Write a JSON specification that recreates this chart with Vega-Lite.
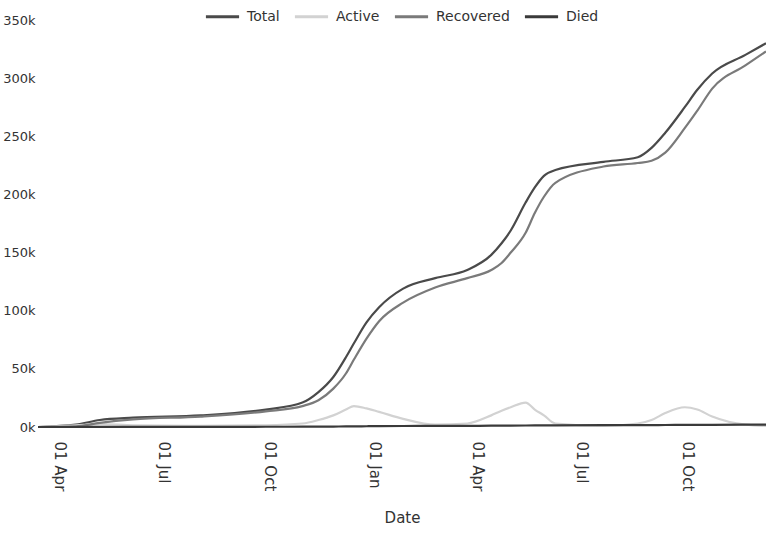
{
  "$schema": "https://vega.github.io/schema/vega-lite/v6.json",
  "autosize": {"type": "none"},
  "width": 728,
  "height": 407,
  "padding": {"left": 38, "top": 20, "right": 0, "bottom": 106},
  "background": "white",
  "config": {
    "font": "DejaVu Sans",
    "view": {"stroke": null},
    "axis": {"labelFont": "DejaVu Sans", "titleFont": "DejaVu Sans", "labelColor": "#333", "titleColor": "#333"}
  },
  "datasets": {
    "covid": [
      {"date": "2020-03-13", "Total": 0, "Active": 0, "Recovered": 0, "Died": 0},
      {"date": "2020-04-15", "Total": 2000, "Active": 1500, "Recovered": 500, "Died": 20},
      {"date": "2020-05-06", "Total": 6000, "Active": 2500, "Recovered": 3500, "Died": 50},
      {"date": "2020-06-04", "Total": 8000, "Active": 1500, "Recovered": 6500, "Died": 100},
      {"date": "2020-08-02", "Total": 10000, "Active": 1000, "Recovered": 9000, "Died": 150},
      {"date": "2020-09-28", "Total": 15000, "Active": 1500, "Recovered": 13500, "Died": 200},
      {"date": "2020-10-30", "Total": 21000, "Active": 3000, "Recovered": 18000, "Died": 250},
      {"date": "2020-11-13", "Total": 30000, "Active": 6000, "Recovered": 23000, "Died": 300},
      {"date": "2020-11-26", "Total": 43000, "Active": 10000, "Recovered": 33000, "Died": 400},
      {"date": "2020-12-07", "Total": 60000, "Active": 15000, "Recovered": 46000, "Died": 500},
      {"date": "2020-12-14", "Total": 72000, "Active": 18000, "Recovered": 58000, "Died": 550},
      {"date": "2020-12-25", "Total": 90000, "Active": 16000, "Recovered": 76000, "Died": 650},
      {"date": "2021-01-05", "Total": 103000, "Active": 13000, "Recovered": 91000, "Died": 750},
      {"date": "2021-01-26", "Total": 119000, "Active": 7000, "Recovered": 107000, "Died": 850},
      {"date": "2021-02-23", "Total": 128000, "Active": 2000, "Recovered": 120000, "Died": 950},
      {"date": "2021-03-23", "Total": 135000, "Active": 3000, "Recovered": 128000, "Died": 1000},
      {"date": "2021-04-13", "Total": 148000, "Active": 10000, "Recovered": 135000, "Died": 1100},
      {"date": "2021-04-22", "Total": 158000, "Active": 14000, "Recovered": 141000, "Died": 1150},
      {"date": "2021-04-30", "Total": 169000, "Active": 17000, "Recovered": 150000, "Died": 1200},
      {"date": "2021-05-13", "Total": 193000, "Active": 21000, "Recovered": 167000, "Died": 1300},
      {"date": "2021-05-21", "Total": 206000, "Active": 15000, "Recovered": 184000, "Died": 1350},
      {"date": "2021-05-29", "Total": 216000, "Active": 10000, "Recovered": 198000, "Died": 1400},
      {"date": "2021-06-08", "Total": 221000, "Active": 3000, "Recovered": 210000, "Died": 1450},
      {"date": "2021-07-20", "Total": 228000, "Active": 1000, "Recovered": 224000, "Died": 1550},
      {"date": "2021-08-19", "Total": 232000, "Active": 3000, "Recovered": 227000, "Died": 1600},
      {"date": "2021-08-31", "Total": 240000, "Active": 6000, "Recovered": 229000, "Died": 1650},
      {"date": "2021-09-12", "Total": 253000, "Active": 12000, "Recovered": 236000, "Died": 1700},
      {"date": "2021-09-29", "Total": 275000, "Active": 17000, "Recovered": 257000, "Died": 1800},
      {"date": "2021-10-10", "Total": 290000, "Active": 15000, "Recovered": 272000, "Died": 1850},
      {"date": "2021-10-23", "Total": 304000, "Active": 9000, "Recovered": 291000, "Died": 1900},
      {"date": "2021-11-21", "Total": 320000, "Active": 2000, "Recovered": 311000, "Died": 2000},
      {"date": "2021-12-09", "Total": 330000, "Active": 1000, "Recovered": 323000, "Died": 2050}
    ]
  },
  "data": {"name": "covid"},
  "transform": [
    {"fold": ["Total", "Active", "Recovered", "Died"], "as": ["series", "value"]}
  ],
  "mark": {"type": "line", "interpolate": "monotone", "strokeWidth": 2.2},
  "encoding": {
    "x": {
      "field": "date",
      "type": "temporal",
      "title": "Date",
      "scale": {"nice": false},
      "axis": {
        "format": "%d %b",
        "tickCount": {"interval": "month", "step": 3},
        "labelAngle": 90,
        "labelFontSize": 15,
        "labelPadding": 14,
        "ticks": false,
        "domain": false,
        "grid": false,
        "titleFontSize": 15,
        "titleFontWeight": "normal",
        "titlePadding": 20,
        "labelOverlap": false
      }
    },
    "y": {
      "field": "value",
      "type": "quantitative",
      "title": null,
      "scale": {"domain": [0, 350000], "nice": false},
      "axis": {
        "format": "~s",
        "values": [0, 50000, 100000, 150000, 200000, 250000, 300000, 350000],
        "labelFontSize": 13,
        "labelPadding": 3,
        "ticks": false,
        "domain": false,
        "grid": false
      }
    },
    "color": {
      "field": "series",
      "type": "nominal",
      "scale": {"domain": ["Total", "Active", "Recovered", "Died"], "range": ["#4a4a4a", "#d2d2d2", "#7a7a7a", "#3a3a3a"]},
      "legend": {
        "title": null,
        "orient": "none",
        "direction": "horizontal",
        "legendX": 166,
        "legendY": -22,
        "symbolType": "stroke",
        "symbolSize": 1100,
        "symbolStrokeWidth": 3,
        "labelFontSize": 14,
        "labelColor": "#333",
        "labelOffset": 6,
        "columnPadding": 8
      }
    },
    "order": {"field": "series"}
  }
}
